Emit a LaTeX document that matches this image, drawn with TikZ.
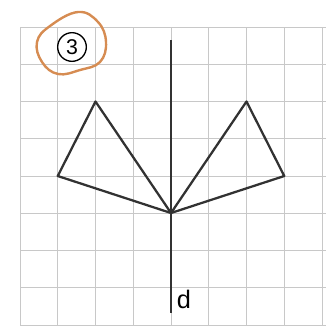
\documentclass[tikz,border=0pt]{standalone}
\usepackage{tikz}
\usepackage{fontspec}
\setmainfont{Liberation Sans}
\definecolor{gridc}{RGB}{200,200,200}
\definecolor{inkc}{RGB}{50,50,50}
\definecolor{orangec}{RGB}{214,140,82}
\begin{document}
\begin{tikzpicture}[x=0.75pt,y=-0.75pt,
  gridline/.style={gridc,line width=0.5pt},
  figline/.style={inkc,line width=1.7pt,line join=round,line cap=round},
  axisline/.style={inkc,line width=1.8pt},
  hand/.style={orangec,line width=1.8pt,line cap=round}]
\useasboundingbox (0,0) rectangle (334,326);
% grid
\foreach \i in {0,...,8}{
  \draw[gridline] ({20+37.75*\i},27) -- ({20+37.75*\i},326);
  \draw[gridline] (20,{27+37.25*\i}) -- (326,{27+37.25*\i});
}
% grid points of the figure
\coordinate (A) at (95.5,101.5);
\coordinate (B) at (57.75,176);
\coordinate (O) at (171,213);
\coordinate (C) at (246.5,101.5);
\coordinate (D) at (284.25,176);
\coordinate (top) at (171,40);
\coordinate (bot) at (171,313);
% axis d
\draw[axisline] (top) -- (bot);
\node[black,font=\fontsize{19}{21}\selectfont,inner sep=0pt] (dlabel) at (184,299) {d};
% triangles
\draw[figline] (A) -- (B) -- (O) -- cycle;
\draw[figline] (C) -- (D) -- (O) -- cycle;
% circled number
\node[draw=black,circle,line width=1pt,inner sep=0pt,minimum size=21.5pt,font=\fontsize{16}{16}\selectfont] (num) at (72,47) {3};
% hand drawn orange ring
\draw[hand] plot[smooth cycle,tension=0.7] coordinates {(50,26) (78,12) (98,22) (106,42) (100,62) (80,70) (58,74) (42,62) (37,42)};
\end{tikzpicture}
\end{document}
